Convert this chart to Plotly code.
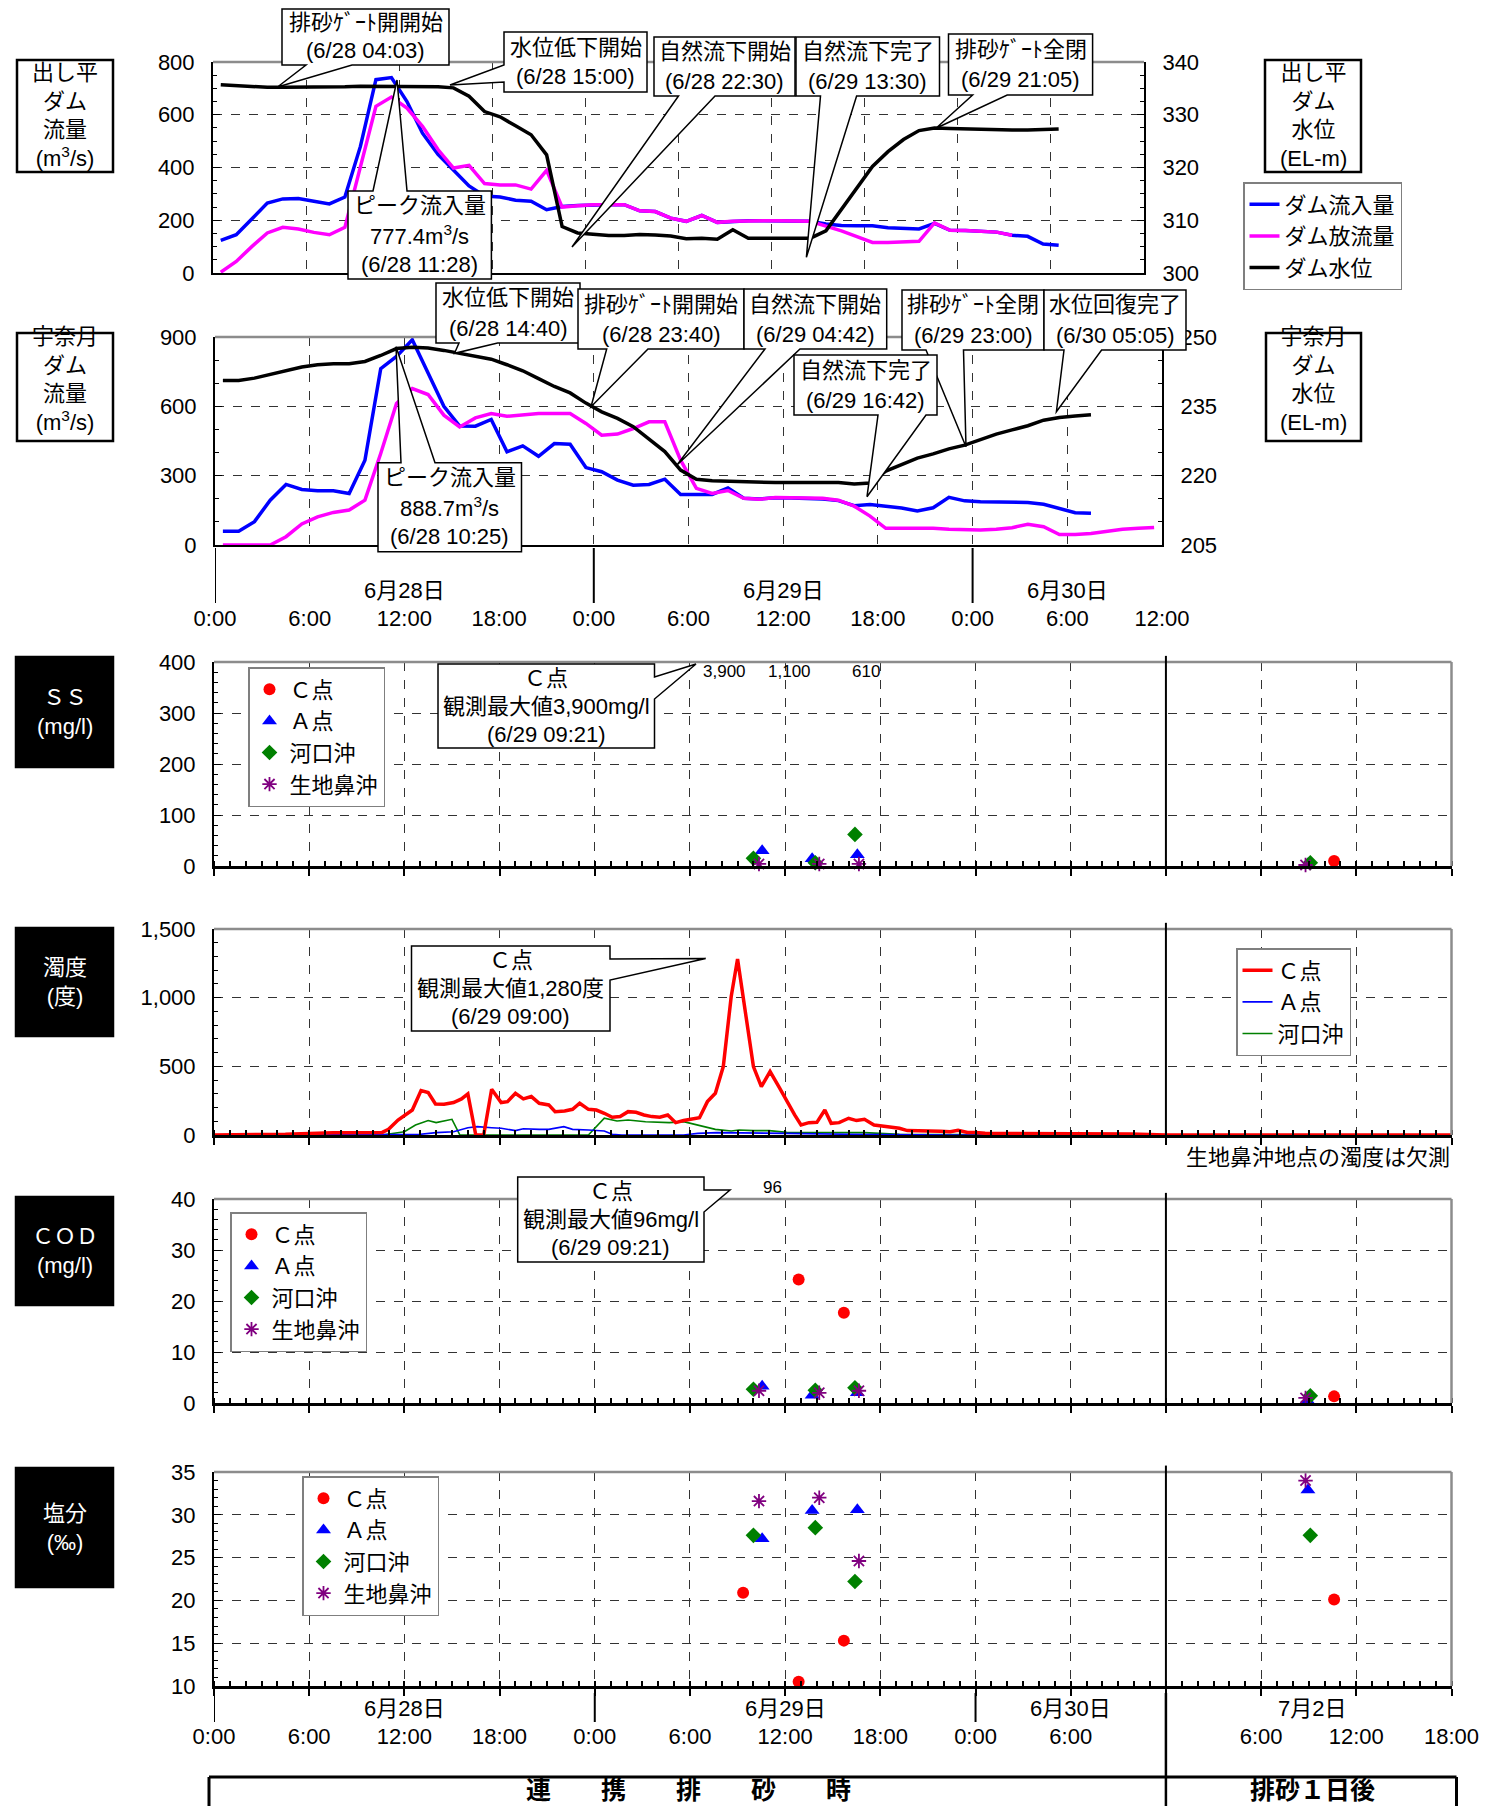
import plotly.graph_objects as go

# page is laid out with an 8px body margin, so the figure is placed at (8, 8)
OX, OY = 8, 8
FW, FH = 1479, 1798
FONT = "Liberation Sans, Noto Sans CJK JP, sans-serif"

# ---------------- DATA ----------------
# Panel 1: 出し平ダム (hours from 6/28 0:00)
DASHI_T = [0.5, 1.5, 2.5, 3.5, 4.5, 5.5, 6.5, 7.5, 8.5, 9.5,
           10.5, 11.5, 12.5, 13.5, 14.5, 15.5, 16.5, 17.5, 18.5, 19.5,
           20.5, 21.5, 22.5, 23.5, 24.5, 25.5, 26.5, 27.5, 28.5, 29.5,
           30.5, 31.5, 32.5, 33.5, 34.5, 35.5, 36.5, 37.5, 38.5, 39.5,
           40.5, 41.5, 42.5, 43.5, 44.5, 45.5, 46.5, 47.5, 48.5, 49.5,
           50.5, 51.5, 52.5, 53.5, 54.5]
DASHI_IN = [124, 145, 205, 265, 281, 282, 272, 262, 288, 480,
            733, 741, 650, 530, 450, 390, 330, 292, 288, 276,
            272, 240, 252, 256, 259, 259, 259, 236, 233, 208,
            196, 218, 192, 196, 198, 198, 198, 198, 196, 186,
            180, 179, 179, 172, 170, 167, 188, 162, 161, 158,
            155, 143, 139, 110, 105]
DASHI_OUT = [3, 44, 100, 152, 173, 167, 154, 145, 173, 400,
             632, 667, 625, 556, 468, 398, 408, 339, 334, 334,
             318, 389, 250, 255, 259, 259, 259, 236, 233, 208,
             196, 218, 192, 196, 198, 198, 198, 198, 196, 178,
             160, 138, 116, 116, 117, 120, 190, 162, 161, 158,
             155, 143]
DASHI_LV = [335.7, 335.5, 335.3, 335.2, 335.2, 335.2, 335.2, 335.3, 335.3, 335.4,
            335.4, 335.4, 335.4, 335.4, 335.3, 335.1, 333.5, 330.6, 329.6, 327.9,
            326.2, 322.4, 308.8, 307.6, 307.3, 307.1, 307.1, 307.3, 307.2, 307.0,
            306.5, 306.6, 306.4, 308.2, 306.6, 306.6, 306.6, 306.6, 306.6, 308.0,
            312.0, 316.0, 320.2, 323.0, 325.3, 327.0, 327.5, 327.4, 327.3, 327.2,
            327.2, 327.1, 327.1, 327.2, 327.3]

# Panel 2: 宇奈月ダム
UNA_T = [0.5, 1.5, 2.5, 3.5, 4.5, 5.5, 6.5, 7.5, 8.5, 9.5,
         10.5, 11.5, 12.5, 13.5, 14.5, 15.5, 16.5, 17.5, 18.5, 19.5,
         20.5, 21.5, 22.5, 23.5, 24.5, 25.5, 26.5, 27.5, 28.5, 29.5,
         30.5, 31.5, 32.5, 33.5, 34.5, 35.5, 36.5, 37.5, 38.5, 39.5,
         40.5, 41.5, 42.5, 43.5, 44.5, 45.5, 46.5, 47.5, 48.5, 49.5,
         50.5, 51.5, 52.5, 53.5, 54.5, 55.5, 56.5, 57.5, 58.5, 59.5]
UNA_IN = [60, 60, 101, 194, 262, 240, 235, 235, 223, 367,
          763, 816, 888, 742, 600, 515, 514, 543, 403, 429,
          384, 439, 436, 335, 317, 281, 259, 262, 285, 219,
          219, 219, 247, 202, 199, 204, 203, 202, 199, 192,
          170, 175, 168, 160, 147, 161, 206, 191, 187, 187,
          187, 184, 176, 158, 140, 137]
UNA_OUT = [0, 0, 0, 0, 36, 91, 122, 141, 151, 194,
           396, 612, 677, 651, 562, 511, 550, 569, 557, 564,
           569, 569, 569, 526, 475, 480, 504, 533, 533, 367,
           245, 223, 236, 202, 198, 206, 204, 203, 202, 194,
           168, 125, 72, 72, 72, 72, 68, 65, 65, 68,
           75, 90, 79, 45, 45, 50, 60, 68, 72, 76]
UNA_LV = [240.6, 240.6, 241.1, 241.9, 242.8, 243.5, 244.0, 244.2, 244.2, 244.7,
          246.0, 247.5, 247.8, 247.6, 247.1, 246.5, 245.8, 245.2, 244.0, 242.7,
          241.0, 239.3, 237.9, 235.7, 233.8, 232.4, 230.6, 228.0, 225.2, 221.2,
          219.2, 218.9, 218.8, 218.7, 218.5, 218.5, 218.5, 218.5, 218.5, 218.5,
          218.2, 218.4, 221.0, 222.5, 223.8, 224.7, 225.8, 226.6, 227.8, 229.0,
          229.9, 230.8, 232.0, 232.6, 232.9, 233.2]

# Lower panels: hours from 6/28 0:00; 7/2 samples given as hour of day (axis break after 6/30 12:00)
JUL2_OFFSET = 60
STATIONS = ["Ｃ点", "Ａ点", "河口沖", "生地鼻沖"]
SAMPLE_T = {"Ｃ点": [33.35, 36.85, 39.7], "Ａ点": [34.55, 37.7, 40.55],
            "河口沖": [34.0, 37.9, 40.4], "生地鼻沖": [34.35, 38.15, 40.65]}
JUL2_T = {"Ｃ点": 10.6, "Ａ点": 8.95, "河口沖": 9.1, "生地鼻沖": 8.8}

SS_V = {"Ｃ点": [3900, 1100, 610, 10], "Ａ点": [30, 14, 22, 4],
        "河口沖": [15, 6.5, 62, 6.5], "生地鼻沖": [4, 4, 4, 2]}
COD_V = {"Ｃ点": [96, 24.2, 17.7, 1.3], "Ａ点": [3.3, 1.5, 2.0, 0.4],
         "河口沖": [2.7, 2.5, 3.0, 1.4], "生地鼻沖": [2.4, 2.0, 2.4, 1.0]}
SAL_V = {"Ｃ点": [20.9, 10.5, 15.3, 20.1], "Ａ点": [27.2, 30.5, 30.6, 32.9],
         "河口沖": [27.6, 28.5, 22.2, 27.6], "生地鼻沖": [31.6, 32.0, 24.6, 34.0]}
SS_OFFSCALE = ["3,900", "1,100", "610"]
COD_OFFSCALE = ["96"]

# Turbidity (度)
TURB_C_T = [0, 4.5, 7.5, 10.6, 11.0, 11.6, 12.5, 13.05, 13.5, 13.96,
            14.5, 15.1, 15.6, 16.0, 16.5, 17.0, 17.5, 18.1, 18.5, 19.0,
            19.5, 20.0, 20.5, 21.1, 21.5, 22.1, 22.6, 23.05, 23.6, 24.1,
            24.6, 25.1, 25.6, 26.1, 26.6, 27.1, 27.6, 28.1, 28.6, 29.1,
            29.6, 30.1, 30.6, 31.1, 31.6, 32.1, 32.6, 33.0, 33.6, 34.0,
            34.5, 35.05, 35.6, 36.1, 36.6, 37.0, 37.5, 38.0, 38.5, 38.9,
            39.4, 40.0, 40.5, 41.0, 41.6, 42.1, 42.6, 43.2, 43.7, 44.2,
            44.8, 45.3, 45.8, 46.4, 46.9, 47.5, 48.0, 48.6, 49.5, 51.1,
            52.7, 54.0, 55.9, 57.8, 60, 78]
TURB_C_V = [0, 5, 17, 19, 41, 109, 182, 323, 309, 226,
            224, 236, 263, 299, 0, 0, 333, 236, 243, 304,
            263, 280, 231, 219, 170, 175, 187, 231, 187, 182,
            158, 129, 134, 170, 165, 146, 134, 129, 146, 90,
            105, 117, 126, 243, 304, 498, 1009, 1281, 814, 498,
            352, 462, 352, 243, 146, 73, 90, 92, 182, 85,
            90, 122, 105, 114, 73, 66, 56, 49, 32, 32,
            29, 32, 27, 24, 34, 19, 19, 12, 12, 10,
            7, 7, 10, 7, 0, 0]
TURB_A_T = [0, 12.1, 13.0, 14.0, 15.1, 16.0, 16.6, 17.5, 18.1, 19.0,
            19.5, 20.5, 21.1, 22.05, 22.6, 23.6, 24.6, 25.1, 25.7, 29.6,
            30.5, 31.7, 33.1, 36.1, 40.0, 46.4, 54.0, 54.6, 55.0, 78]
TURB_A_V = [0, 0, 5, 17, 24, 53, 61, 53, 49, 32,
            46, 41, 41, 61, 41, 36, 29, 5, 0, 0,
            12, 17, 17, 12, 5, 0, 0, 12, 0, 0]
TURB_K_T = [0, 10.6, 12.0, 12.7, 13.5, 14.0, 15.0, 15.5, 23.6, 24.6,
            25.4, 26.1, 27.2, 28.7, 29.6, 30.7, 31.6, 32.6, 33.1, 34.0,
            35.0, 36.1, 37.5, 41.0, 43.2, 48.0, 54.0, 54.5, 55.1, 78]
TURB_K_V = [0, 0, 24, 73, 105, 90, 114, 0, 0, 122,
            102, 109, 97, 90, 97, 66, 41, 29, 36, 32,
            32, 19, 17, 17, 5, 5, 0, 17, 0, 0]

TOP_TICKTEXT = ["0:00", "6:00", "12:00", "18:00", "0:00", "6:00", "12:00",
                "18:00", "0:00", "6:00", "12:00"]
LOW_TICKTEXT = ["0:00", "6:00", "12:00", "18:00", "0:00", "6:00", "12:00",
                "18:00", "0:00", "6:00", " ", "6:00", "12:00", "18:00"]
TOP_DATES = [("6月28日", 12), ("6月29日", 36), ("6月30日", 54)]
LOW_DATES = [("6月28日", 12), ("6月29日", 36), ("6月30日", 54), ("7月2日", 69.2)]

# ---------------- LAYOUT HELPERS ----------------
def px(x):
    return (x - OX) / FW


def py(y):
    return 1 - (y - OY) / FH


def xdom(a):
    return [px(a[0]), px(a[1])]


def ydom(a):
    return [py(a[1]), py(a[0])]


P1_X, P1_Y = (213, 1144), (62, 273)
P2_X, P2_Y = (215, 1162), (337, 545)
LX = (214, 1451.5)
SS_Y, TB_Y, CD_Y, SA_Y = (662, 866), (929, 1135), (1199, 1403), (1472, 1686)

GRID = dict(showgrid=True, gridcolor="#333333", griddash="dash", gridwidth=1, automargin=False)
shapes = []
annotations = []


def ann(x, y, text, size=22, xanchor="center", yanchor="middle", color="black",
        xref="paper", yref="paper"):
    annotations.append(dict(x=x, y=y, xref=xref, yref=yref, text=text, showarrow=False,
                            xanchor=xanchor, yanchor=yanchor,
                            font=dict(size=size, family=FONT, color=color)))


def callout(box, edge, base, tip, lines, size=22):
    L, T, R, B = box
    tx, ty = tip
    a, b = sorted(base)
    if edge == "bottom":
        pts = [(L, T), (R, T), (R, B), (b, B), (tx, ty), (a, B), (L, B)]
    elif edge == "top":
        pts = [(L, T), (a, T), (tx, ty), (b, T), (R, T), (R, B), (L, B)]
    elif edge == "right":
        pts = [(L, T), (R, T), (R, a), (tx, ty), (R, b), (R, B), (L, B)]
    else:
        pts = [(L, T), (R, T), (R, B), (L, B), (L, b), (tx, ty), (L, a)]
    path = "M " + " L ".join(f"{px(x):.5f},{py(y):.5f}" for x, y in pts) + " Z"
    shapes.append(dict(type="path", path=path, xref="paper", yref="paper",
                       fillcolor="white", line=dict(color="black", width=1.5), layer="above"))
    n = len(lines)
    for i, t in enumerate(lines):
        yc = T + (B - T) * (2 * i + 1) / (2 * n)
        ann(px((L + R) / 2), py(yc), t, size=size)


def label_box(box, lines, black=False, dy=0):
    L, T, R, B = box
    shapes.append(dict(type="rect", xref="paper", yref="paper", x0=px(L), x1=px(R),
                       y0=py(B), y1=py(T), fillcolor="black" if black else "white",
                       line=dict(color="black", width=2.5), layer="above"))
    ann(px((L + R) / 2), py((T + B) / 2 + dy), "<br>".join(lines), size=22,
        color="white" if black else "black")


def pline(x0, y0, x1, y1, width=2, color="black"):
    shapes.append(dict(type="line", xref="paper", yref="paper", x0=px(x0), y0=py(y0),
                       x1=px(x1), y1=py(y1), line=dict(color=color, width=width), layer="above"))


def frame(xn, yn, right=True):
    shapes.append(dict(type="line", xref=f"{xn} domain", yref=f"{yn} domain", x0=0, x1=1,
                       y0=1, y1=1, line=dict(color="#8c8c8c", width=2.5), layer="above"))
    if right:
        shapes.append(dict(type="line", xref=f"{xn} domain", yref=f"{yn} domain", x0=1, x1=1,
                           y0=0, y1=1, line=dict(color="#8c8c8c", width=2.5), layer="above"))


# ---------------- FIGURE ----------------
fig = go.Figure()

# Panel 1
fig.add_trace(go.Scatter(x=DASHI_T[:len(DASHI_IN)], y=DASHI_IN, name="ダム流入量", mode="lines",
                         line=dict(color="#0000FF", width=3.5), xaxis="x", yaxis="y", legend="legend"))
fig.add_trace(go.Scatter(x=DASHI_T[:len(DASHI_OUT)], y=DASHI_OUT, name="ダム放流量", mode="lines",
                         line=dict(color="#FF00FF", width=3.5), xaxis="x", yaxis="y", legend="legend"))
fig.add_trace(go.Scatter(x=DASHI_T[:len(DASHI_LV)], y=DASHI_LV, name="ダム水位", mode="lines",
                         line=dict(color="#000000", width=3.5), xaxis="x", yaxis="y7", legend="legend"))

# Panel 2
fig.add_trace(go.Scatter(x=UNA_T[:len(UNA_IN)], y=UNA_IN, mode="lines", showlegend=False,
                         line=dict(color="#0000FF", width=3.5), xaxis="x2", yaxis="y2"))
fig.add_trace(go.Scatter(x=UNA_T[:len(UNA_OUT)], y=UNA_OUT, mode="lines", showlegend=False,
                         line=dict(color="#FF00FF", width=3.5), xaxis="x2", yaxis="y2"))
fig.add_trace(go.Scatter(x=UNA_T[:len(UNA_LV)], y=UNA_LV, mode="lines", showlegend=False,
                         line=dict(color="#000000", width=3.5), xaxis="x2", yaxis="y8"))

MARK = {"Ｃ点": dict(symbol="circle", color="#FF0000", size=12),
        "Ａ点": dict(symbol="triangle-up", color="#0000FF", size=13),
        "河口沖": dict(symbol="diamond", color="#008000", size=12),
        "生地鼻沖": dict(symbol="asterisk-open", color="#800080", size=12,
                     line=dict(color="#800080", width=1.8))}


def station_traces(values, xn, yn, legend_name, clip_c=False):
    for st in STATIONS:
        xs = SAMPLE_T[st] + [JUL2_OFFSET + JUL2_T[st]]
        fig.add_trace(go.Scatter(x=xs, y=values[st], name=st, mode="markers", marker=MARK[st],
                                 xaxis=xn, yaxis=yn, legend=legend_name,
                                 cliponaxis=(clip_c and st == "Ｃ点")))


station_traces(SS_V, "x3", "y3", "legend2", clip_c=True)

fig.add_trace(go.Scatter(x=TURB_K_T, y=TURB_K_V, name="河口沖", mode="lines",
                         line=dict(color="#008000", width=1.6), xaxis="x4", yaxis="y4", legend="legend3"))
fig.add_trace(go.Scatter(x=TURB_A_T, y=TURB_A_V, name="Ａ点", mode="lines",
                         line=dict(color="#0000FF", width=1.6), xaxis="x4", yaxis="y4", legend="legend3"))
fig.add_trace(go.Scatter(x=TURB_C_T, y=TURB_C_V, name="Ｃ点", mode="lines",
                         line=dict(color="#FF0000", width=3.5), xaxis="x4", yaxis="y4", legend="legend3"))

station_traces(COD_V, "x5", "y5", "legend4", clip_c=True)
station_traces(SAL_V, "x6", "y6", "legend5")

# ---------------- AXES ----------------
TICKF = dict(size=22, family=FONT, color="black")
layout_axes = {}

layout_axes["xaxis"] = dict(domain=xdom(P1_X), range=[0, 60], anchor="y", tickmode="linear", tick0=0, dtick=6,
                            showticklabels=False, ticks="", showline=True, linecolor="black", linewidth=2,
                            zeroline=False, **GRID)
layout_axes["yaxis"] = dict(domain=ydom(P1_Y), range=[0, 800], anchor="x", tickmode="linear", tick0=0, dtick=200,
                            ticks="inside", ticklen=7, tickcolor="black",
                            minor=dict(dtick=50, tick0=0, ticks="inside", ticklen=4, tickcolor="black"),
                            showline=True, linecolor="black", linewidth=2, zeroline=False,
                            tickfont=TICKF, ticklabelstandoff=12, **GRID)
layout_axes["yaxis7"] = dict(overlaying="y", side="right", anchor="x", range=[300, 340], tickmode="linear",
                             tick0=300, dtick=10, ticks="inside", ticklen=7, tickcolor="black",
                             minor=dict(dtick=2.5, tick0=300, ticks="inside", ticklen=4, tickcolor="black"),
                             showline=True, linecolor="black", linewidth=2, showgrid=False, zeroline=False,
                             tickfont=TICKF, ticklabelstandoff=12, automargin=False)

layout_axes["xaxis2"] = dict(domain=xdom(P2_X), range=[0, 60], anchor="y2", tickmode="array",
                             tickvals=list(range(0, 61, 6)), ticktext=TOP_TICKTEXT, ticks="",
                             showline=True, linecolor="black", linewidth=2, zeroline=False,
                             tickfont=TICKF, ticklabelstandoff=53, **GRID)
layout_axes["yaxis2"] = dict(domain=ydom(P2_Y), range=[0, 900], anchor="x2", tickmode="linear", tick0=0, dtick=300,
                             ticks="inside", ticklen=7, tickcolor="black",
                             minor=dict(dtick=100, tick0=0, ticks="inside", ticklen=4, tickcolor="black"),
                             showline=True, linecolor="black", linewidth=2, zeroline=False,
                             tickfont=TICKF, ticklabelstandoff=12, **GRID)
layout_axes["yaxis8"] = dict(overlaying="y2", side="right", anchor="x2", range=[205, 250], tickmode="linear",
                             tick0=205, dtick=15, ticks="inside", ticklen=7, tickcolor="black",
                             minor=dict(dtick=5, tick0=205, ticks="inside", ticklen=4, tickcolor="black"),
                             showline=True, linecolor="black", linewidth=2, showgrid=False, zeroline=False,
                             tickfont=TICKF, ticklabelstandoff=12, automargin=False)


def lower_axes(n, ydomain, yrange, dtick, minor, labels=False, fmt=None):
    xa = dict(domain=xdom(LX), range=[0, 78], anchor=f"y{n}", tickmode="array",
              tickvals=list(range(0, 79, 6)), ticks="outside", ticklen=7, tickwidth=1.5, tickcolor="black",
              minor=dict(tickmode="linear", tick0=0, dtick=1, ticks="inside", ticklen=5, tickcolor="black"),
              showline=True, linecolor="black", linewidth=2.5, zeroline=False, showticklabels=labels, **GRID)
    if labels:
        xa.update(ticktext=LOW_TICKTEXT, tickfont=TICKF, ticklabelstandoff=22)
    ya = dict(domain=ydom(ydomain), range=yrange, anchor=f"x{n}", tickmode="linear", tick0=yrange[0],
              dtick=dtick, ticks="inside", ticklen=7, tickcolor="black",
              minor=dict(dtick=minor, tick0=yrange[0], ticks="inside", ticklen=4, tickcolor="black"),
              showline=True, linecolor="black", linewidth=2, zeroline=False,
              tickfont=TICKF, ticklabelstandoff=12, **GRID)
    if fmt:
        ya["tickformat"] = fmt
    layout_axes[f"xaxis{n}"] = xa
    layout_axes[f"yaxis{n}"] = ya


lower_axes(3, SS_Y, [0, 400], 100, 20)
lower_axes(4, TB_Y, [0, 1500], 500, 100, fmt=",")
lower_axes(5, CD_Y, [0, 40], 10, 2)
lower_axes(6, SA_Y, [10, 35], 5, 1, labels=True)

# frames (gray top / right borders)
frame("x", "y", right=False)
frame("x2", "y2", right=False)
for n in (3, 4, 5, 6):
    frame(f"x{n}", f"y{n}")
    shapes.append(dict(type="line", xref=f"x{n}", yref=f"y{n} domain", x0=JUL2_OFFSET, x1=JUL2_OFFSET,
                       y0=0, y1=1.03, line=dict(color="black", width=2), layer="above"))

# day separators and dates under panel 2
for d in (0, 24, 48):
    shapes.append(dict(type="line", xref="x2", yref="paper", x0=d, x1=d, y0=py(603), y1=py(548),
                       line=dict(color="black", width=2)))
for txt, h in TOP_DATES:
    ann(h, py(590), txt, xref="x2")

# day separators and dates under salinity
for d in (0, 24, 48):
    shapes.append(dict(type="line", xref="x6", yref="paper", x0=d, x1=d, y0=py(1722), y1=py(1693),
                       line=dict(color="black", width=2)))
shapes.append(dict(type="line", xref="x6", yref="paper", x0=JUL2_OFFSET, x1=JUL2_OFFSET,
                   y0=py(1806), y1=py(1693), line=dict(color="black", width=2.5)))
for txt, h in LOW_DATES:
    ann(h, py(1708), txt, xref="x6")

# bottom period box
pline(209, 1777, 1456.5, 1777, width=3)
pline(209, 1777, 209, 1806, width=3)
pline(1456.5, 1777, 1456.5, 1806, width=3)
ann(px(688), py(1790), "<b>連　　携　　排　　砂　　時</b>", size=25)
ann(px(1312), py(1790), "<b>排砂１日後</b>", size=25)

# label boxes
label_box((17, 60, 113, 172), ["出し平", "ダム", "流量", "(m<sup>3</sup>/s)"])
label_box((1265, 60, 1361, 172), ["出し平", "ダム", "水位", "(EL-m)"])
label_box((17, 333, 113, 441), ["宇奈月", "ダム", "流量", "(m<sup>3</sup>/s)"], dy=-8)
label_box((1266, 333, 1361, 441), ["宇奈月", "ダム", "水位", "(EL-m)"], dy=-8)
label_box((16, 657, 113, 767), ["ＳＳ", "(mg/l)"], black=True)
label_box((16, 928, 113, 1036), ["濁度", "(度)"], black=True)
label_box((16, 1197, 113, 1305), ["ＣＯＤ", "(mg/l)"], black=True)
label_box((16, 1468, 113, 1587), ["塩分", "(‰)"], black=True)

# callouts panel 1
callout((282, 9, 449, 65), "bottom", (306, 352), (277.5, 87), ["排砂ｹﾞｰﾄ開開始", "(6/28 04:03)"])
callout((504, 32, 647, 92), "left", (65, 82), (450, 85), ["水位低下開始", "(6/28 15:00)"])
callout((654, 37, 795, 96), "bottom", (678.5, 715), (572, 247), ["自然流下開始", "(6/28 22:30)"])
callout((796, 37, 939.5, 96), "bottom", (820.5, 856.6), (806.4, 257.3), ["自然流下完了", "(6/29 13:30)"])
callout((948.5, 34, 1092.6, 95), "bottom", (972.6, 1007.2), (936, 128.3), ["排砂ｹﾞｰﾄ全閉", "(6/29 21:05)"])
callout((348, 191, 491.4, 279), "top", (373, 407), (397, 80),
        ["ピーク流入量", "777.4m<sup>3</sup>/s", "(6/28 11:28)"])
# callouts panel 2
callout((436, 283, 580, 343), "bottom", (459, 497.6), (454.5, 353.3), ["水位低下開始", "(6/28 14:40)"])
callout((578, 289, 744, 349), "bottom", (606.7, 648), (591, 406.7), ["排砂ｹﾞｰﾄ開開始", "(6/28 23:40)"])
callout((744, 289, 886.7, 349), "bottom", (765, 800), (677, 465), ["自然流下開始", "(6/29 04:42)"])
callout((902, 290, 1044, 350), "bottom", (926, 963.5), (966, 446.7), ["排砂ｹﾞｰﾄ全閉", "(6/29 23:00)"])
callout((1044, 290, 1186, 350), "bottom", (1064, 1101.6), (1056.4, 411.7), ["水位回復完了", "(6/30 05:05)"])
callout((794, 355, 937, 415), "bottom", (878, 926), (867, 496.7), ["自然流下完了", "(6/29 16:42)"])
callout((378, 462.7, 521.5, 551.7), "top", (401, 435), (396, 346.7),
        ["ピーク流入量", "888.7m<sup>3</sup>/s", "(6/28 10:25)"])
# callouts lower panels
callout((438, 664, 654.5, 748), "right", (677, 699), (696, 664),
        ["Ｃ点", "観測最大値3,900mg/l", "(6/29 09:21)"])
callout((411.5, 946, 610, 1031), "right", (959, 980), (705.7, 958.5),
        ["Ｃ点", "観測最大値1,280度", "(6/29 09:00)"])
callout((517.7, 1177, 704, 1262), "right", (1190, 1212), (730, 1190),
        ["Ｃ点", "観測最大値96mg/l", "(6/29 09:21)"])

# off-scale values
for txt, h in zip(SS_OFFSCALE, [32.2, 36.3, 41.1]):
    ann(h, py(671), txt, size=17, xref="x3")
for txt, h in zip(COD_OFFSCALE, [35.2]):
    ann(h, py(1187), txt, size=17, xref="x5")

ann(px(1451.5), py(1157), "生地鼻沖地点の濁度は欠測", size=22, xanchor="right")

LEG = dict(xanchor="left", yanchor="top", bordercolor="#7f7f7f", borderwidth=1.5, bgcolor="white",
           font=dict(size=22, family=FONT, color="black"), tracegroupgap=0)
fig.update_layout(
    template="none",
    width=FW, height=FH, autosize=False,
    margin=dict(l=0, r=0, t=0, b=0, pad=0, autoexpand=False),
    paper_bgcolor="white", plot_bgcolor="white",
    font=dict(family=FONT, size=22, color="black"),
    showlegend=True,
    legend=dict(x=px(1243), y=py(182), **LEG),
    legend2=dict(x=px(248), y=py(667), **LEG),
    legend3=dict(x=px(1236), y=py(948), traceorder="reversed", **LEG),
    legend4=dict(x=px(230), y=py(1212), **LEG),
    legend5=dict(x=px(302), y=py(1476), **LEG),
    shapes=shapes, annotations=annotations,
    **layout_axes,
)

fig.write_html("out.html")
